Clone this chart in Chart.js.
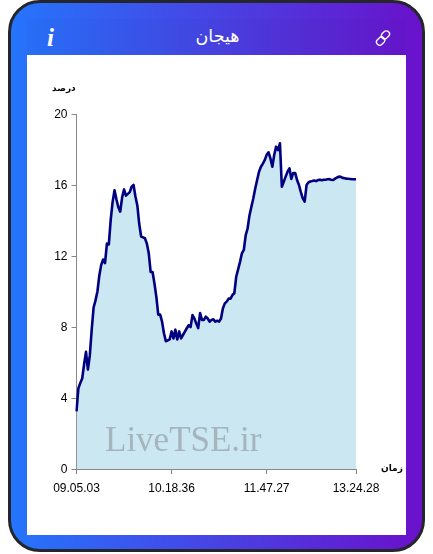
<!DOCTYPE html>
<html lang="fa">
<head>
<meta charset="utf-8">
<title>هیجان</title>
<script src="https://cdn.jsdelivr.net/npm/chart.js@4/dist/chart.umd.min.js"></script>
<style>
html,body{margin:0;padding:0;background:#fff;width:433px;height:554px;overflow:hidden;font-family:"Liberation Sans",sans-serif}
#card{position:absolute;left:8px;top:0;width:417px;height:552px;box-sizing:border-box;border:3px solid #25262b;border-radius:32px;background:linear-gradient(90deg,#2575fc,#6a11cb)}
#band{position:absolute;left:27px;top:19px;width:379px;height:36px;background:rgba(0,0,30,.025)}
#plot{position:absolute;left:27px;top:55px;width:379px;height:480px;background:#fff}
#title{position:absolute;left:27px;width:381px;top:26px;text-align:center;color:#fff;font:17.5px "Liberation Sans","DejaVu Sans",sans-serif;line-height:20px}
#info{position:absolute;left:47px;top:23px;color:#fff;font:italic bold 25px "Liberation Serif",serif;line-height:30px}
#link{position:absolute;left:374px;top:29px}
.axis{position:absolute;font:bold 9px "Liberation Sans","DejaVu Sans",sans-serif;color:#000;line-height:12px}
#mark{position:absolute;left:105px;top:420px;font:35px "Liberation Serif",serif;line-height:40px;color:rgba(120,120,120,.45);white-space:nowrap}
</style>
</head>
<body>
<div id="card"></div>
<div id="band"></div>
<div id="title">هیجان</div>
<div id="info">i</div>
<svg id="link" width="18" height="18" viewBox="0 0 18 18" fill="none" stroke="#fff" stroke-width="1.3"><rect x="8.2" y="1.4" width="6.4" height="9" rx="3.2" transform="rotate(45 11.4 5.9)"/><rect x="3.4" y="7.6" width="6.4" height="9" rx="3.2" transform="rotate(45 6.6 12.1)"/></svg>
<div id="plot"><canvas id="c" width="379" height="480"></canvas></div>
<div class="axis" style="left:52px;top:82px">درصد</div>
<div class="axis" style="left:381px;top:462px">زمان</div>
<div id="mark">LiveTSE.ir</div>
<script>
const tickIndices = [0, 50, 100, 147];
const tickLabels = ["09.05.03", "10.18.36", "11.47.27", "13.24.28"];
const yTicks = [0, 4, 8, 12, 16, 20];
const emotion = [
3.25,4.55,4.85,5.1,5.9,6.6,5.6,6.4,7.85,9.1,9.5,10.0,10.9,11.5,11.8,11.6,12.7,12.65,14.05,15.05,
15.7,15.2,14.75,14.5,15.3,15.75,15.4,15.5,15.6,15.9,16.0,15.35,14.85,13.8,13.1,13.05,13.0,12.7,12.15,11.1,
11.1,10.45,9.7,8.7,8.7,8.3,7.65,7.2,7.25,7.3,7.75,7.35,7.85,7.3,7.75,7.36,7.55,7.74,7.93,8.1,
8.0,8.67,8.48,8.2,7.94,8.78,8.4,8.4,8.58,8.48,8.3,8.4,8.43,8.3,8.35,8.3,8.48,9.05,9.33,9.43,
9.6,9.6,9.8,9.9,10.83,11.25,11.67,12.15,12.34,13.18,13.56,14.3,14.78,15.25,15.8,16.28,16.75,17.03,17.2,17.4,
17.7,17.84,17.5,17.03,17.7,18.16,17.97,18.35,15.9,16.18,16.47,16.75,16.94,16.34,16.68,16.68,16.28,16.0,15.6,15.25,
15.06,16.0,16.15,16.2,16.22,16.25,16.22,16.28,16.3,16.27,16.3,16.3,16.32,16.33,16.3,16.28,16.36,16.42,16.47,16.46,
16.4,16.38,16.36,16.35,16.34,16.32,16.32,16.32];
const labels = emotion.map((_, i) => {
  const k = tickIndices.indexOf(i);
  return k >= 0 ? tickLabels[k] : "";
});
const font = { family: '"Liberation Sans", sans-serif', size: 12 };
new Chart(document.getElementById("c"), {
  type: "line",
  data: { labels, datasets: [{
    data: emotion,
    borderColor: "#000080",
    borderWidth: 2.6,
    backgroundColor: "#cae7f2",
    fill: "origin",
    pointRadius: 0,
    tension: 0,
    borderJoinStyle: "round"
  }]},
  options: {
    responsive: false,
    animation: false,
    layout: { padding: { top: 59, right: 50, left: 0, bottom: 0 } },
    plugins: { legend: { display: false }, tooltip: { enabled: false } },
    scales: {
      x: {
        type: "category",
        offset: false,
        afterBuildTicks: s => { s.ticks = tickIndices.map(v => ({ value: v, label: labels[v] })); },
        afterFit: s => { s.height = 66; },
        grid: { drawOnChartArea: false, drawTicks: true, tickLength: 5, tickColor: "#888", color: "#888" },
        border: { color: "#888", width: 1 },
        ticks: { color: "#000", font, padding: 7, autoSkip: false, maxRotation: 0, minRotation: 0,
          callback: function (v) { return labels[v]; } }
      },
      y: {
        min: 0, max: 20,
        afterBuildTicks: s => { s.ticks = yTicks.map(v => ({ value: v })); },
        afterFit: s => { s.width = 49.5; },
        grid: { drawOnChartArea: false, drawTicks: true, tickLength: 5, tickColor: "#888", color: "#888" },
        border: { color: "#888", width: 1 },
        ticks: { color: "#000", font, padding: 4, labelOffset: 1 }
      }
    }
  }
});
</script>
</body>
</html>
